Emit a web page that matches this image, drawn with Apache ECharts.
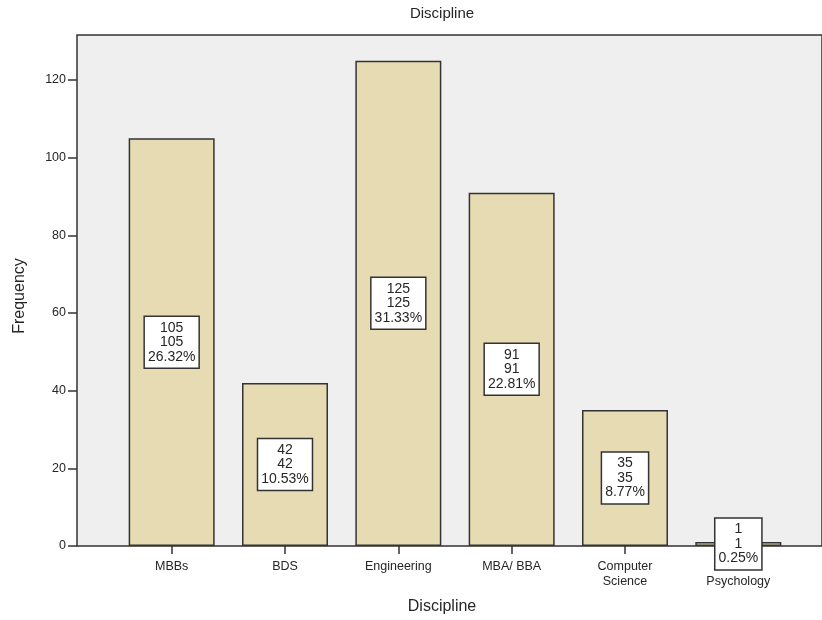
<!DOCTYPE html>
<html>
<head>
<meta charset="utf-8">
<script src="https://cdn.jsdelivr.net/npm/echarts@6/dist/echarts.min.js"></script>
<style>
  html, body { margin: 0; padding: 0; background: #ffffff; }
  #chart { width: 822px; height: 620px; }
</style>
</head>
<body>
<div id="chart"></div>
<script>
// Discipline frequency counts
const disciplines = ['MBBs', 'BDS', 'Engineering', 'MBA/ BBA', 'Computer\nScience', 'Psychology'];
const frequencies = [105, 42, 125, 91, 35, 1];
const yTicks = [0, 20, 40, 60, 80, 100, 120];

const total = frequencies.reduce((a, b) => a + b, 0);
const FONT = "'Liberation Sans', Arial, sans-serif";
const INK = '#262626';

const chart = echarts.init(document.getElementById('chart'), null, { renderer: 'canvas' });

// the last category label sits one line lower, below its value box
const categoryData = disciplines.map(name =>
  name === 'Psychology'
    ? { value: name, textStyle: { padding: [15, 0, 0, 0] } }
    : name
);

chart.setOption({
  backgroundColor: '#ffffff',
  animation: false,
  grid: [
    // framed plot background
    { left: 77, right: -3, top: 35, bottom: 74, show: true,
      backgroundColor: '#efefef', borderColor: '#333333', borderWidth: 1.5 },
    // bar area
    { left: 115, right: 27, top: 35, bottom: 74 }
  ],
  xAxis: [
    { gridIndex: 0, type: 'value', show: false, min: 0, max: 1 },
    {
      gridIndex: 1, type: 'category', data: categoryData,
      axisLine: { show: false },
      axisTick: { show: true, alignWithLabel: true, length: 8,
                  lineStyle: { color: '#333333', width: 1.5 } },
      axisLabel: { color: INK, fontFamily: FONT, fontSize: 12.5, margin: 13,
                   lineHeight: 15, interval: 0 }
    }
  ],
  yAxis: [
    { gridIndex: 0, type: 'value', show: false, min: 0, max: 1 },
    {
      gridIndex: 1, type: 'value', min: 0, max: 131.6, offset: 38,
      axisLine: { show: false },
      splitLine: { show: false },
      axisTick: { show: true, length: 9, customValues: yTicks,
                  lineStyle: { color: '#333333', width: 1.5 } },
      axisLabel: { color: INK, fontFamily: FONT, fontSize: 12.5, margin: 11,
                   customValues: yTicks }
    }
  ],
  graphic: [
    { type: 'text', x: 442, y: 14, style: { text: 'Discipline', fill: INK,
      font: '15px ' + FONT, align: 'center', verticalAlign: 'middle' } },
    { type: 'text', x: 442, y: 607, style: { text: 'Discipline', fill: INK,
      font: '16px ' + FONT, align: 'center', verticalAlign: 'middle' } },
    { type: 'text', x: 20, y: 296, rotation: Math.PI / 2, style: { text: 'Frequency', fill: INK,
      font: '16px ' + FONT, align: 'center', verticalAlign: 'middle' } }
  ],
  series: [{
    type: 'bar',
    xAxisIndex: 1, yAxisIndex: 1,
    data: frequencies,
    barWidth: 86,
    itemStyle: { color: '#e6dbb2', borderColor: '#333333', borderWidth: 1.5 },
    label: {
      show: true,
      position: 'inside',
      formatter: p => `${p.value}\n${p.value}\n${(p.value / total * 100).toFixed(2)}%`,
      color: INK,
      fontFamily: FONT,
      fontSize: 14,
      lineHeight: 14.5,
      backgroundColor: '#ffffff',
      borderColor: '#333333',
      borderWidth: 1.5,
      padding: [4, 3, 3, 3],
      align: 'center'
    }
  }]
});
</script>
</body>
</html>
